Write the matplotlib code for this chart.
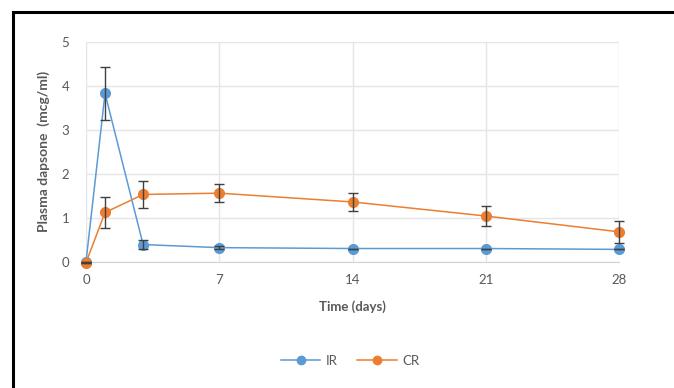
import matplotlib.pyplot as plt
from matplotlib.lines import Line2D

plt.rcParams['font.family'] = ['Lato', 'DejaVu Sans']

days = [0, 1, 3, 7, 14, 21, 28]
ir_mean = [0.0, 3.83, 0.39, 0.32, 0.30, 0.30, 0.28]
ir_err = [0.0, 0.61, 0.10, 0.03, 0.0, 0.0, 0.0]
cr_mean = [-0.02, 1.12, 1.53, 1.56, 1.36, 1.04, 0.68]
cr_err = [0.0, 0.35, 0.31, 0.21, 0.21, 0.22, 0.25]

blue = '#5b9bd5'
orange = '#ed7d31'
txt = '#595959'

fig = plt.figure(figsize=(6.74, 3.88), dpi=100)
ax = fig.add_axes([86 / 674, 1 - 261.7 / 388, 533 / 674, 219.7 / 388])

for m, e, c in [(ir_mean, ir_err, blue), (cr_mean, cr_err, orange)]:
    ax.plot(days, m, color=c, lw=1.1, marker='o', ms=7, zorder=3, clip_on=False)
    eb = ax.errorbar(days, m, yerr=e, fmt='none', ecolor='#404040', elinewidth=1,
                     capsize=3.5, capthick=1, zorder=4)
    for art in eb.lines[1] + eb.lines[2]:
        art.set_clip_on(False)

ax.set_xlim(0, 28)
ax.set_ylim(0, 5)
ax.set_xticks([0, 7, 14, 21, 28])
ax.set_yticks(range(6))
ax.grid(True, color='#e3e5ea', lw=1)
ax.set_axisbelow(True)
for s in ['top', 'right', 'left']:
    ax.spines[s].set_visible(False)
ax.spines['bottom'].set_color('#d0d3da')
ax.tick_params(length=0, colors=txt, labelsize=9.5, pad=9)
ax.tick_params(axis='y', pad=12)
ax.set_xlabel('Time (days)', fontsize=9.5, fontweight='bold', color=txt, labelpad=10)
ax.set_ylabel('Plasma dapsone  (mcg/ml)', fontsize=10, fontweight='bold',
              color=txt, labelpad=8)

handles = [Line2D([], [], color=blue, marker='o', ms=6, lw=1.1),
           Line2D([], [], color=orange, marker='o', ms=6, lw=1.1)]
fig.legend(handles, ['IR', 'CR'], loc='center', bbox_to_anchor=(350 / 674, 1 - 361 / 388),
           ncol=2, frameon=False, fontsize=9.5, labelcolor=txt, handlelength=3,
           columnspacing=1.5, handletextpad=0.4)

fig.add_artist(Line2D([13 / 674, 13 / 674], [0, 1 - 12 / 388], transform=fig.transFigure,
                      color='black', lw=2.2))
fig.add_artist(Line2D([13 / 674, 1], [1 - 12 / 388, 1 - 12 / 388], transform=fig.transFigure,
                      color='black', lw=2.2))

fig.savefig('out.png', dpi=100)
